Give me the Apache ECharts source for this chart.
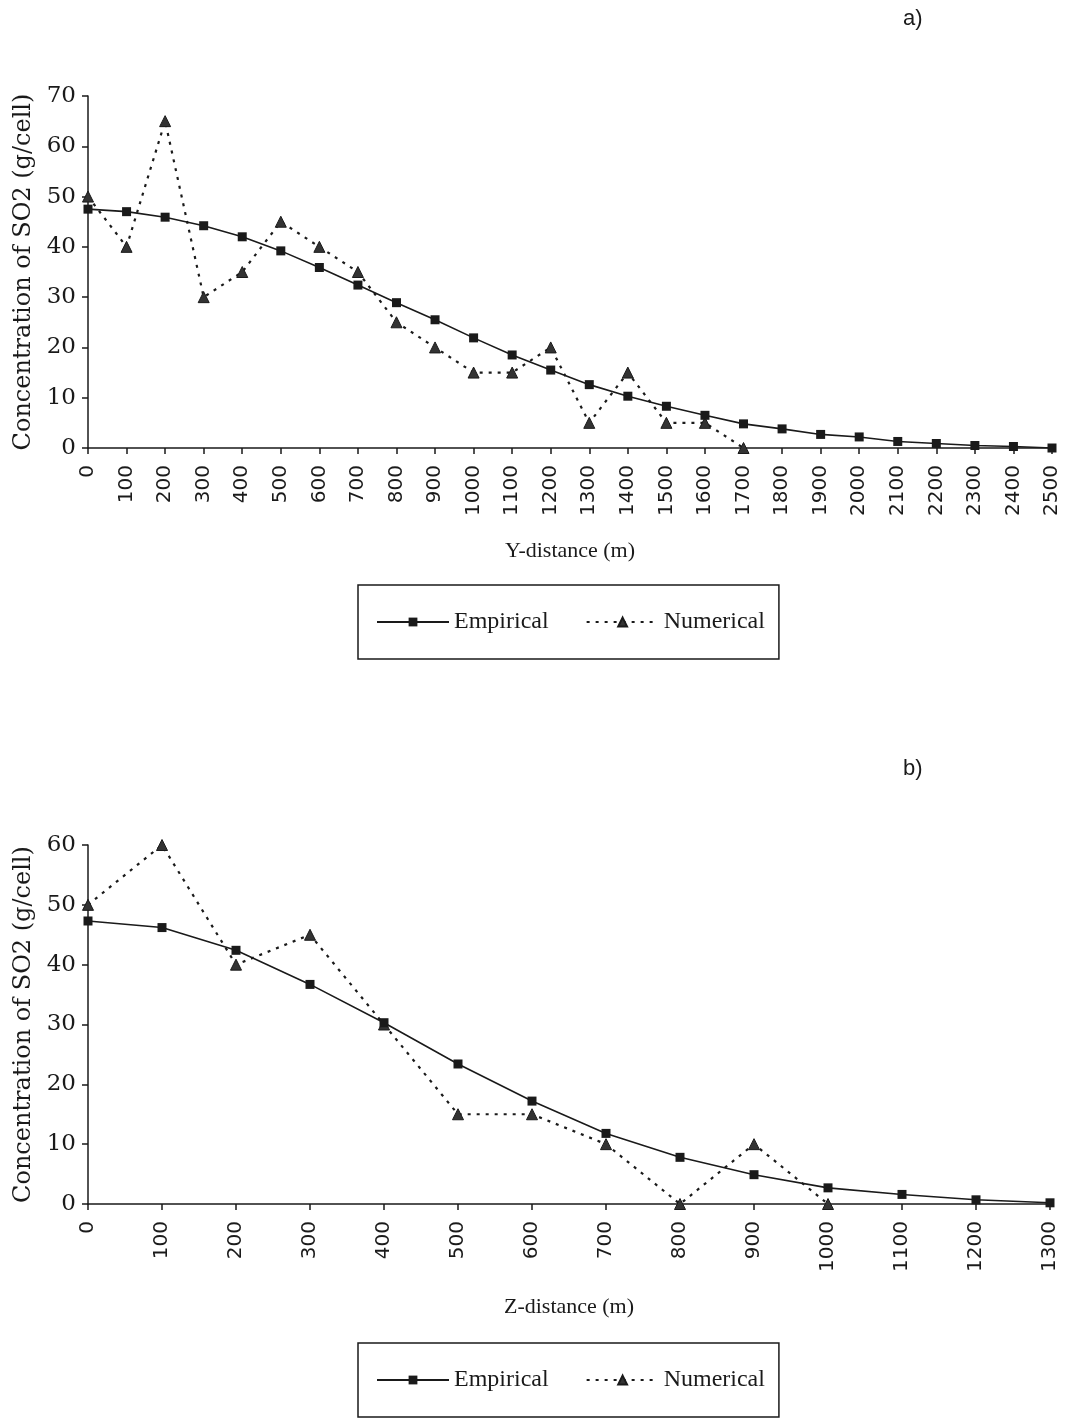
<!DOCTYPE html>
<html>
<head>
<meta charset="utf-8">
<script src="https://cdn.jsdelivr.net/npm/echarts@6/dist/echarts.min.js"></script>
<style>
  html, body { margin: 0; padding: 0; background: #ffffff; }
  #chart { width: 1072px; height: 1419px; }
</style>
</head>
<body>
<div id="chart"></div>
<script>
// ---- Data: panel a) Y-distance ----
const yDistance = [0,100,200,300,400,500,600,700,800,900,1000,1100,1200,1300,1400,1500,1600,1700,1800,1900,2000,2100,2200,2300,2400,2500];
const empiricalY = [47.5,47.0,45.9,44.2,42.0,39.2,35.9,32.4,28.9,25.5,21.9,18.5,15.5,12.6,10.3,8.3,6.5,4.8,3.8,2.7,2.2,1.3,0.9,0.5,0.3,0.0];
const numericalYDist = [0,100,200,300,400,500,600,700,800,900,1000,1100,1200,1300,1400,1500,1600,1700];
const numericalY = [50,40,65,30,35,45,40,35,25,20,15,15,20,5,15,5,5,0];

// ---- Data: panel b) Z-distance ----
const zDistance = [0,100,200,300,400,500,600,700,800,900,1000,1100,1200,1300];
const empiricalZ = [47.3,46.2,42.4,36.7,30.3,23.4,17.2,11.8,7.8,4.9,2.7,1.6,0.7,0.2];
const numericalZDist = [0,100,200,300,400,500,600,700,800,900,1000];
const numericalZ = [50,60,40,45,30,15,15,10,0,10,0];

const seriesNames = ['Empirical', 'Numerical'];
const yAxisTitle = 'Concentration of SO2 (g/cell)';
const xAxisTitles = ['Y-distance (m)', 'Z-distance (m)'];
const panelLabels = ['a)', 'b)'];

const pairs = (xs, ys) => xs.map((x, i) => [x, ys[i]]);

const INK = '#1a1a1a';

function xAxisCfg(idx, max, name) {
  return {
    type: 'value', gridIndex: idx, min: 0, max: max, interval: 100,
    name: name, nameLocation: 'middle', nameGap: 92,
    nameTextStyle: { fontFamily: 'Liberation Serif', fontSize: 22, color: INK },
    axisLine: { show: true, lineStyle: { color: INK, width: 1.5 } },
    axisTick: { show: true, inside: false, length: 6, lineStyle: { color: INK, width: 1.5 } },
    axisLabel: { rotate: 90, margin: 17, fontFamily: 'DejaVu Sans', fontSize: 20, color: INK,
                 formatter: v => String(v) },
    splitLine: { show: false }
  };
}
function yAxisCfg(idx, max) {
  return {
    type: 'value', gridIndex: idx, min: 0, max: max, interval: 10,
    name: yAxisTitle, nameLocation: 'middle', nameRotate: 90, nameGap: 50,
    nameTextStyle: { fontFamily: 'DejaVu Serif', fontSize: 24, color: INK },
    axisLine: { show: true, lineStyle: { color: INK, width: 1.5 } },
    axisTick: { show: true, inside: false, length: 6, lineStyle: { color: INK, width: 1.5 } },
    axisLabel: { margin: 12, fontFamily: 'DejaVu Serif', fontSize: 23, color: INK },
    splitLine: { show: false }
  };
}
function empSeries(idx, data) {
  return {
    name: seriesNames[0], type: 'line', xAxisIndex: idx, yAxisIndex: idx,
    data: data, symbol: 'rect', symbolSize: 9, smooth: false,
    lineStyle: { color: INK, width: 1.6, type: 'solid' },
    itemStyle: { color: INK }, z: 3
  };
}
function numSeries(idx, data) {
  return {
    name: seriesNames[1], type: 'line', xAxisIndex: idx, yAxisIndex: idx,
    data: data, symbol: 'triangle', symbolSize: 11,
    lineStyle: { color: INK, width: 2.2, type: [3, 6] },
    itemStyle: { color: '#333', borderColor: INK, borderWidth: 1 }, z: 2
  };
}
function legendCfg(idx, top) {
  return {
    show: true, orient: 'horizontal', left: 358, top: top,
    data: seriesNames,
    padding: [25, 14, 25, 18], itemGap: 37, itemWidth: 72, itemHeight: 11,
    borderColor: INK, borderWidth: 1.5, backgroundColor: 'transparent',
    textStyle: { fontFamily: 'Liberation Serif', fontSize: 24, color: INK },
    selectedMode: false
  };
}

const chart = echarts.init(document.getElementById('chart'), null, { renderer: 'canvas' });
chart.setOption({
  backgroundColor: '#ffffff',
  animation: false,
  grid: [
    { left: 88, right: 20, top: 96, bottom: 1419 - 448 },
    { left: 88, right: 22, top: 845, bottom: 1419 - 1204 }
  ],
  xAxis: [ xAxisCfg(0, 2500, xAxisTitles[0]), xAxisCfg(1, 1300, xAxisTitles[1]) ],
  yAxis: [ yAxisCfg(0, 70), yAxisCfg(1, 60) ],
  legend: [ legendCfg(0, 585), legendCfg(1, 1343) ],
  series: [
    empSeries(0, pairs(yDistance, empiricalY)),
    numSeries(0, pairs(numericalYDist, numericalY)),
    empSeries(1, pairs(zDistance, empiricalZ)),
    numSeries(1, pairs(numericalZDist, numericalZ))
  ],
  graphic: [
    { type: 'text', left: 903, top: 8, style: { text: panelLabels[0], font: '22px "Liberation Sans"', fill: INK } },
    { type: 'text', left: 903, top: 758, style: { text: panelLabels[1], font: '22px "Liberation Sans"', fill: INK } }
  ]
});
</script>
</body>
</html>
